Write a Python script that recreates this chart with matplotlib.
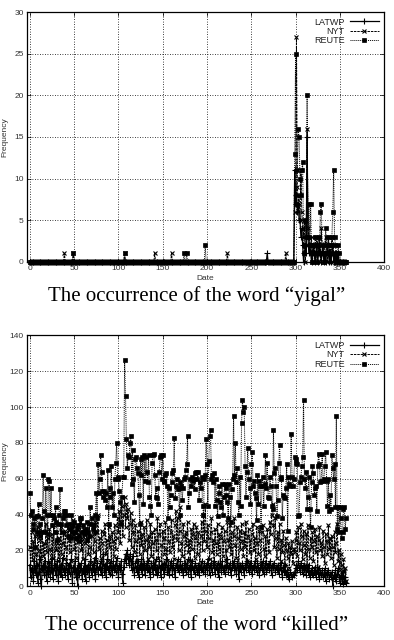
import numpy as np
import matplotlib
matplotlib.use("Agg")
import matplotlib.pyplot as plt

days = np.arange(358)

# ---- word "yigal": sparse early hits, then the burst from day 298 on
yigal_tail_start = 298
latwp_yigal_early = {268: 1}
nyt_yigal_early = {39: 1, 49: 1, 107: 1, 141: 1, 160: 1, 223: 1, 289: 1}
reute_yigal_early = {49: 1, 107: 1, 174: 1, 177: 1, 198: 2}

latwp_yigal_tail = [0, 11, 7, 8, 6, 7, 5, 5, 3, 4, 2, 0, 1, 2, 1, 15, 3, 1, 2, 1,
                    0, 1, 2, 1, 0, 1, 2, 0, 1, 2, 1, 0, 1, 2, 0, 1, 0, 1, 2, 1,
                    0, 1, 0, 1, 2, 0, 1, 0, 1, 0, 1, 0, 0, 0, 0, 0, 0, 0, 0, 0]
nyt_yigal_tail = [0, 6, 8, 27, 9, 7, 8, 5, 11, 6, 4, 3, 5, 0, 2, 16, 4, 3, 2, 1,
                  3, 0, 1, 2, 0, 1, 3, 2, 1, 3, 0, 4, 2, 1, 0, 2, 3, 1, 0, 3,
                  1, 2, 0, 3, 2, 1, 0, 1, 0, 1, 0, 0, 0, 0, 0, 0, 0, 0, 0, 0]
reute_yigal_tail = [0, 13, 25, 7, 11, 16, 15, 10, 8, 11, 12, 2, 1, 5, 3, 20, 3, 7, 2, 7,
                    1, 0, 2, 1, 3, 2, 0, 2, 3, 1, 6, 7, 1, 2, 0, 1, 4, 2, 1, 3,
                    2, 1, 2, 3, 6, 11, 3, 2, 1, 0, 2, 1, 0, 0, 0, 0, 0, 0, 0, 0]

# ---- word "killed": daily counts
latwp_killed = [12, 5, 10, 8, 3, 14, 10, 6, 12, 2, 8, 15, 4, 0, 10, 12, 6, 14, 8, 3,
                11, 7, 13, 5, 9, 15, 4, 10, 12, 6, 9, 14, 3, 11, 7, 12, 5, 16, 8, 10,
                6, 13, 9, 4, 12, 7, 15, 10, 2, 11, 8, 14, 5, 10, 0, 12, 6, 9, 13, 4,
                10, 7, 15, 3, 11, 8, 12, 5, 14, 9, 6, 12, 8, 16, 4, 10, 13, 7, 11, 9,
                14, 6, 10, 18, 8, 12, 5, 15, 9, 11, 7, 13, 10, 6, 14, 9, 12, 8, 16, 10,
                5, 12, 9, 14, 7, 2, 11, 15, 18, 13, 20, 16, 12, 18, 14, 9, 17, 11, 6, 13,
                10, 8, 14, 5, 12, 9, 15, 7, 11, 13, 6, 12, 9, 14, 8, 11, 5, 13, 10, 7,
                12, 9, 15, 6, 11, 8, 14, 10, 5, 12, 9, 13, 7, 11, 15, 8, 12, 6, 10, 14,
                11, 7, 13, 9, 5, 12, 10, 15, 8, 11, 14, 9, 12, 6, 10, 13, 8, 11, 15, 7,
                10, 12, 5, 14, 9, 11, 7, 13, 10, 8, 12, 6, 11, 9, 14, 8, 10, 13, 7, 12,
                9, 15, 11, 6, 13, 10, 8, 12, 14, 7, 11, 9, 13, 5, 10, 12, 8, 14, 9, 11,
                7, 12, 10, 15, 8, 11, 13, 6, 10, 12, 14, 9, 11, 7, 13, 10, 4, 12, 8, 11,
                13, 10, 6, 12, 9, 14, 11, 8, 13, 10, 12, 7, 11, 9, 14, 10, 8, 13, 11, 6,
                10, 12, 9, 14, 7, 11, 13, 8, 10, 12, 9, 14, 11, 6, 12, 10, 13, 8, 11, 9,
                12, 7, 10, 13, 9, 5, 11, 8, 12, 6, 9, 5, 7, 4, 8, 6, 5, 7, 6, 8,
                10, 12, 9, 14, 11, 8, 13, 10, 7, 12, 9, 11, 6, 10, 8, 12, 5, 9, 7, 10,
                6, 8, 11, 5, 9, 7, 10, 4, 8, 6, 9, 5, 7, 10, 3, 8, 6, 9, 4, 7,
                5, 8, 0, 6, 4, 9, 3, 7, 10, 5, 2, 6, 4, 1, 8, 3, 5, 2]
nyt_killed = [22, 10, 30, 15, 25, 8, 28, 18, 12, 33, 20, 14, 26, 9, 31, 17, 24, 11, 35, 19,
              27, 13, 32, 21, 8, 29, 16, 34, 12, 25, 20, 30, 14, 27, 10, 33, 18, 24, 29, 15,
              31, 22, 12, 35, 26, 19, 33, 14, 28, 37, 21, 30, 16, 34, 25, 12, 29, 36, 20, 27,
              15, 32, 24, 11, 30, 26, 18, 35, 22, 13, 28, 33, 19, 25, 36, 14, 30, 40, 21, 27,
              16, 31, 24, 12, 29, 35, 18, 26, 14, 33, 22, 28, 11, 30, 25, 17, 34, 21, 27, 38,
              30, 42, 24, 36, 45, 28, 40, 50, 33, 46, 38, 43, 26, 35, 41, 22, 37, 30, 19, 34,
              25, 14, 31, 27, 18, 36, 23, 29, 12, 33, 20, 26, 37, 15, 28, 22, 35, 17, 30, 24,
              13, 32, 26, 20, 38, 16, 29, 35, 23, 11, 31, 27, 18, 36, 21, 14, 33, 25, 19, 30,
              37, 22, 28, 15, 34, 42, 26, 38, 20, 31, 44, 24, 17, 35, 28, 12, 30, 23, 36, 19,
              26, 14, 32, 21, 29, 35, 16, 27, 33, 18, 30, 24, 11, 28, 36, 20, 40, 25, 46, 31,
              22, 34, 27, 15, 30, 38, 19, 26, 13, 32, 24, 18, 35, 21, 29, 12, 27, 33, 17, 25,
              31, 20, 14, 36, 26, 22, 34, 18, 30, 12, 28, 38, 23, 16, 33, 27, 10, 31, 21, 35,
              25, 17, 30, 22, 36, 14, 28, 32, 19, 26, 11, 29, 35, 20, 27, 15, 33, 24, 18, 31,
              26, 13, 30, 34, 21, 17, 28, 12, 32, 25, 19, 36, 29, 40, 46, 34, 22, 38, 27, 16,
              30, 21, 35, 14, 26, 19, 31, 23, 12, 27, 20, 16, 24, 10, 22, 18, 25, 13, 21, 19,
              26, 30, 17, 33, 24, 20, 35, 28, 15, 31, 23, 18, 29, 12, 34, 21, 16, 27, 22, 30,
              14, 25, 32, 19, 28, 11, 26, 33, 20, 24, 17, 31, 22, 13, 29, 25, 18, 34, 21, 27,
              16, 28, 22, 12, 30, 19, 24, 35, 14, 20, 9, 18, 12, 5, 15, 8, 10, 3]
reute_killed = [52, 40, 42, 35, 32, 38, 22, 39, 30, 39, 46, 28, 35, 30, 38, 62, 42, 30, 55, 40,
                29, 60, 59, 40, 55, 34, 40, 38, 30, 44, 36, 26, 35, 40, 54, 35, 30, 38, 42, 40,
                42, 34, 40, 28, 35, 32, 27, 40, 30, 34, 36, 30, 27, 32, 34, 25, 28, 38, 38, 30,
                34, 29, 30, 32, 26, 36, 30, 28, 44, 35, 38, 32, 34, 30, 40, 52, 38, 68, 52, 60,
                73, 64, 53, 50, 53, 48, 52, 44, 65, 35, 55, 50, 67, 44, 52, 40, 60, 69, 80, 61,
                60, 53, 47, 35, 50, 61, 61, 126, 106, 82, 66, 73, 72, 80, 84, 57, 76, 60, 47, 71,
                72, 66, 63, 51, 35, 71, 62, 72, 46, 73, 59, 72, 64, 58, 73, 50, 45, 40, 69, 73,
                74, 62, 50, 55, 49, 46, 64, 72, 73, 60, 73, 58, 59, 62, 63, 56, 38, 55, 44, 51,
                58, 63, 65, 83, 49, 56, 60, 54, 55, 40, 58, 56, 48, 55, 60, 61, 65, 68, 84, 44,
                52, 60, 56, 61, 59, 60, 54, 63, 64, 60, 64, 48, 58, 55, 61, 45, 40, 60, 62, 82,
                68, 45, 70, 84, 87, 60, 62, 58, 63, 45, 60, 48, 39, 52, 56, 47, 44, 57, 40, 50,
                57, 55, 51, 47, 38, 57, 50, 36, 54, 60, 95, 62, 80, 58, 66, 47, 40, 61, 45, 91,
                104, 97, 100, 67, 50, 64, 77, 60, 55, 46, 68, 75, 56, 59, 52, 49, 37, 62, 46, 59,
                56, 33, 56, 61, 45, 57, 73, 55, 69, 50, 49, 61, 56, 45, 43, 87, 63, 66, 56, 39,
                48, 69, 79, 60, 61, 38, 51, 50, 49, 55, 68, 31, 61, 57, 56, 85, 61, 56, 60, 72,
                71, 69, 68, 39, 40, 58, 61, 67, 72, 104, 60, 55, 64, 43, 50, 61, 43, 33, 58, 67,
                63, 51, 55, 56, 42, 67, 74, 68, 58, 59, 74, 59, 60, 67, 75, 59, 45, 60, 42, 51,
                43, 73, 66, 60, 68, 44, 95, 32, 44, 30, 44, 38, 27, 30, 43, 44, 32, 38]


def build(early, tail):
    vals = np.zeros(len(days))
    for d, v in early.items():
        vals[d] = v
    vals[yigal_tail_start:yigal_tail_start + len(tail)] = tail
    return vals


latwp_yigal = build(latwp_yigal_early, latwp_yigal_tail)
nyt_yigal = build(nyt_yigal_early, nyt_yigal_tail)
reute_yigal = build(reute_yigal_early, reute_yigal_tail)

plt.rcParams['font.family'] = ['Liberation Sans', 'DejaVu Sans']

fig = plt.figure(figsize=(3.94, 6.40), dpi=100)


def draw(ax, latwp, nyt, reute, ymax, ystep):
    ax.plot(days, latwp, color='black', lw=0.9, ls='-', marker='+', ms=4, mew=0.8,
            label='LATWP', clip_on=False)
    ax.plot(days, nyt, color='black', lw=0.7, ls=(0, (2.5, 1)), marker='x', ms=3.2, mew=0.8,
            label='NYT', clip_on=False)
    ax.plot(days, reute, color='black', lw=0.7, ls=(0, (1, 1)), marker='s', ms=2.6, mew=0.5,
            label='REUTE', clip_on=False)
    ax.set_xlim(-3, 400)
    ax.set_ylim(0, ymax)
    ax.set_xticks(np.arange(0, 401, 50))
    ax.set_yticks(np.arange(0, ymax + 1, ystep))
    ax.grid(True, color='black', ls=(0, (1, 2)), lw=0.6)
    ax.tick_params(direction='in', top=True, right=True, labelsize=6, length=3, width=0.5,
                   colors='black', labelcolor='#333333', pad=2.5)
    for s in ax.spines.values():
        s.set_linewidth(0.9)
    ax.set_xlabel('Date', fontsize=6, color='#333333', labelpad=2)
    ax.set_ylabel('Frequency', fontsize=6, color='#333333')
    ax.yaxis.set_label_coords(-0.052, 0.5)
    leg = ax.legend(loc='upper right', frameon=False, markerfirst=False, fontsize=6.5,
                    handlelength=3.2, handletextpad=0.6, labelspacing=0.05, borderaxespad=0.2)
    for t in leg.get_texts():
        t.set_ha('right')
        t.set_color('#222222')
    leg._legend_box.align = 'right'


ax1 = fig.add_axes([0.069, 0.591, 0.906, 0.39])
draw(ax1, latwp_yigal, nyt_yigal, reute_yigal, 30, 5)
ax2 = fig.add_axes([0.069, 0.084, 0.906, 0.392])
draw(ax2, latwp_killed, nyt_killed, reute_killed, 140, 20)

fig.text(0.5, 0.537, 'The occurrence of the word \u201cyigal\u201d', ha='center', va='center',
         fontsize=15, family='Liberation Serif')
fig.text(0.5, 0.022, 'The occurrence of the word \u201ckilled\u201d', ha='center', va='center',
         fontsize=15, family='Liberation Serif')

fig.savefig('out.png', dpi=100)
